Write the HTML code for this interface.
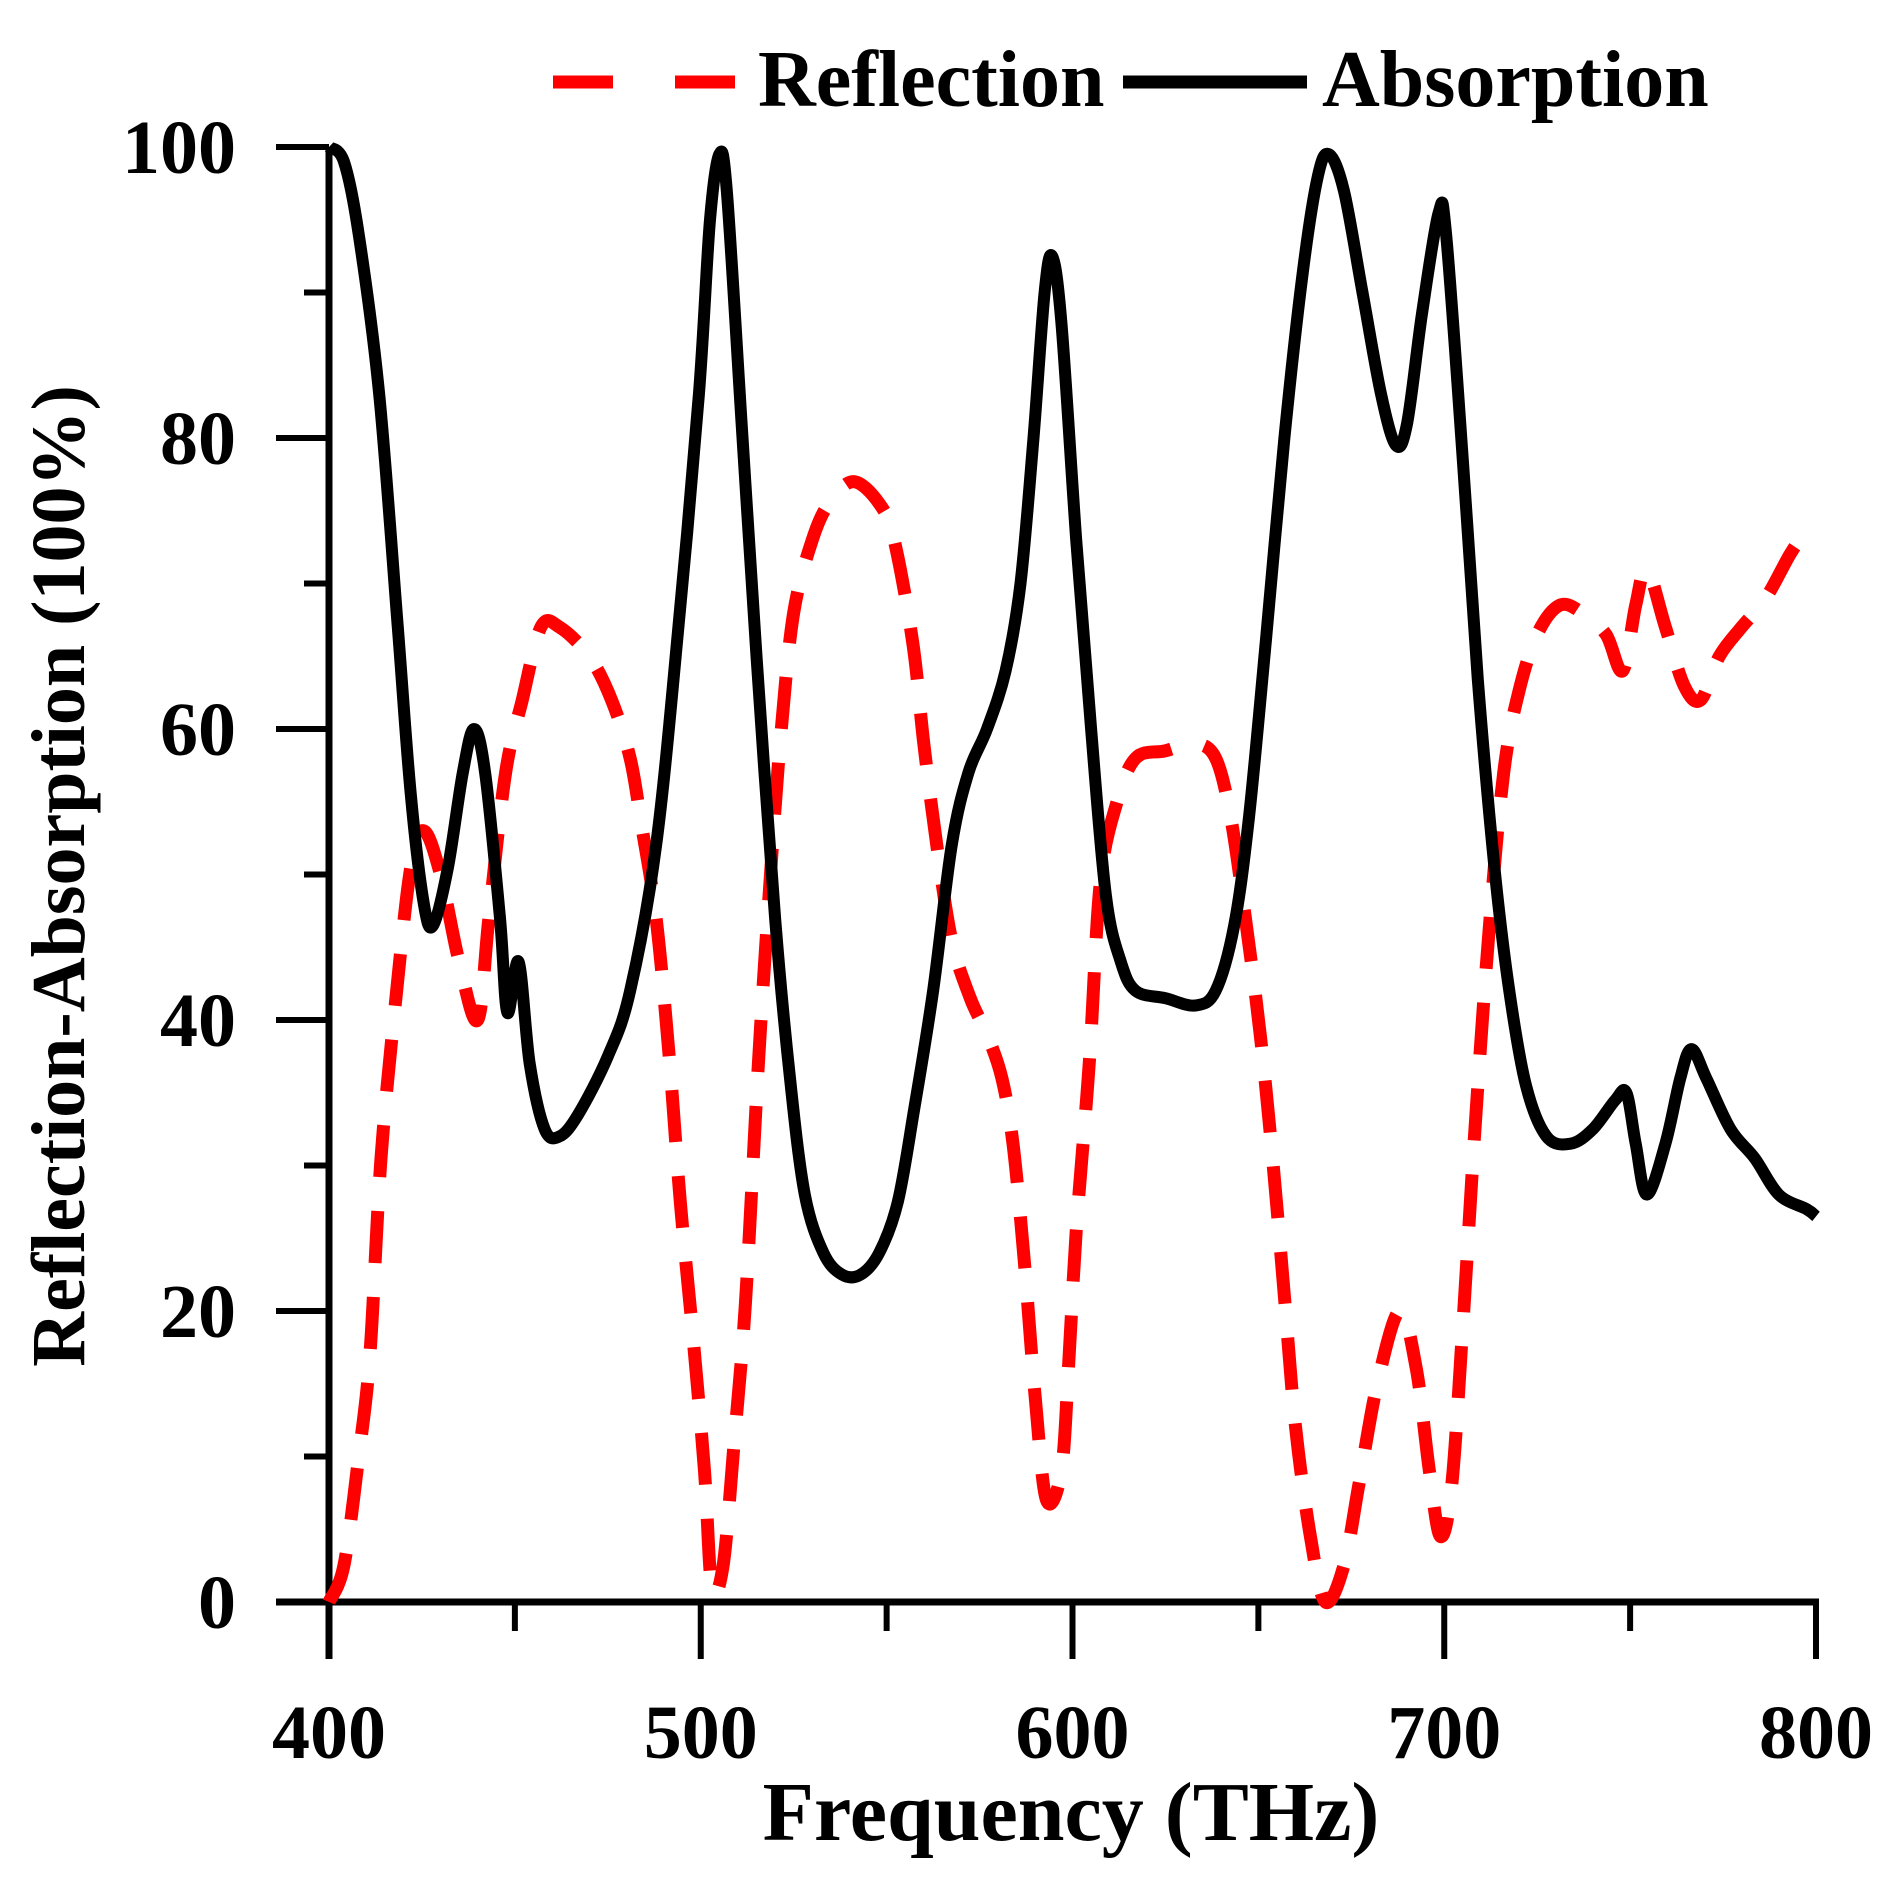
<!DOCTYPE html>
<html><head><meta charset="utf-8"><style>
html,body{margin:0;padding:0;background:#fff}
svg text{font-family:"Liberation Serif",serif;font-weight:bold;fill:#000}
</style></head><body>
<svg id="chart" width="1886" height="1877" viewBox="0 0 1886 1877" xmlns="http://www.w3.org/2000/svg">
<g id="axes"></g>
<g id="series"></g>
<g>
<line x1="553" y1="82" x2="735" y2="82" stroke="#ff0000" stroke-width="13" stroke-dasharray="60,62"/>
<text x="758" y="106" font-size="80">Reflection</text>
<line x1="1123" y1="82" x2="1307" y2="82" stroke="#000" stroke-width="13"/>
<text x="1322" y="106" font-size="80">Absorption</text>
</g>
<text x="1071" y="1840" font-size="84" text-anchor="middle">Frequency (THz)</text>
<text transform="translate(84,876) rotate(-90)" font-size="76" text-anchor="middle">Reflection-Absorption (100%)</text>
</svg>
<script>
const absFreq=[400,404,408,413.5,418.5,422,425.5,428,432,436,439,442,446,448,451,454,458,462,467,475,481,488,494,499.5,502.5,505,507,511,515,520,524,528,533,538,543,548,553,557.5,562.5,567.5,572,577,582,586,589.5,592.5,594.5,597,601,605,609,613,617,625,633,638.5,643.5,647.5,652,657,662,666,669,673,678,683,687,690,694,698.5,700.5,705,709,713.5,717.5,722,727.5,734,740,746,749,751.5,754.5,759.5,763.5,766.5,770.5,777,783.5,790,797.5,800];
const absVal=[100,99,94,83,67,55.5,48,46.5,50.5,57,60,57,47,40.5,44,37,32.5,32,33.5,37.5,42,52,67,83,95,99.5,97,81,65,47,36,28,24,22.5,22.5,24,27.5,34,42,52,57,60,64,70,80,90,92.5,88,73,60,48.5,44,42,41.5,41,42,46.5,54,66,80,91.5,98,99.5,97,90,83,79.5,81,88.5,95.5,94,78.5,63.5,50.5,42,35.5,32,31.5,32.5,34.5,35,31.5,28,31.5,36,38,36,32.5,30.5,28,27,26.5];
const refFreq=[400,404,408,411,414,418,422,425.5,430,435,440,443,447.5,452,457,462,470,476,481,484,488,491.5,494.5,498,501,503,506,509,512,515.5,518.5,521.5,525,530,534.5,541,548,552,557,560,563.5,567.5,572.5,577,581,584,587,590,593,597,599,601,604.5,607.5,612,617,625,633,638.5,642.5,646.5,650.5,654,657,660,664,668,673,677,682,688,692.5,696,699,702,705,708,712,716,720,725,731,737,743.5,748,751.5,754.5,759.5,764.5,769,774,780,786.5,793,796,800];
const refVal=[0,2.5,10,17,30.5,41.5,50.5,53,50,44,40,47,57,62,67,67,65,62,58,53.5,47,37.5,27.5,18,9,1,2.5,11,20.5,37,49,59.5,68,73,75.5,77,75.5,73,66,59,52,45.5,41.5,39,36,31.5,23.5,14,7,9,16.5,25.5,37,49.5,55,58,58.5,59,58,54,47,39,30,21,12,4.5,0,2.5,8,15,20,16,9,4.5,8,19,31.5,46,57,62.5,66.5,68.5,68,66.5,64,68.5,71,67,63,62,65,67,69,72,73,73.5];
const xTicks=[400,500,600,700,800];
const yTicks=[0,20,40,60,80,100];
const X0=329,X1=1816,Y0=1602,Y1=147;
function sx(f){return X0+(f-400)/400*(X1-X0);}
function sy(v){return Y0-v/100*(Y0-Y1);}
const NS="http://www.w3.org/2000/svg";
function mk(tag,attrs,parent){const e=document.createElementNS(NS,tag);for(const k in attrs)e.setAttribute(k,attrs[k]);parent.appendChild(e);return e;}
const axes=document.getElementById('axes');
let e=mk('line',{x1:X0,y1:Y1,x2:X0,y2:1659,stroke:'#000','stroke-width':7},axes);


e=mk('line',{x1:276,y1:Y0,x2:X1+3,y2:Y0,stroke:'#000','stroke-width':7},axes);


for(let v=0;v<=100;v+=10){const major=v%20===0;
 e=mk('line',{x1:major?276:304,y1:sy(v),x2:X0,y2:sy(v),stroke:'#000','stroke-width':6},axes);
 
 }
for(let f=400;f<=800;f+=50){const major=f%100===0;
 e=mk('line',{x1:sx(f),y1:Y0,x2:sx(f),y2:major?1659:1631,stroke:'#000','stroke-width':6},axes);
 
 }
yTicks.forEach(v=>{const t=mk('text',{x:236,y:sy(v)+26,'font-size':76,'text-anchor':'end'},axes);t.textContent=v;
 
 });
xTicks.forEach(f=>{const t=mk('text',{x:sx(f),y:1758,'font-size':76,'text-anchor':'middle'},axes);t.textContent=f;
 
 });
function smooth(fs,vs){const p=fs.map((f,i)=>[sx(f),sy(vs[i])]);let d='M'+p[0][0]+','+p[0][1];
 for(let i=0;i<p.length-1;i++){const a=p[Math.max(0,i-1)],b=p[i],c=p[i+1],q=p[Math.min(p.length-1,i+2)];
  const c1=[b[0]+(c[0]-a[0])/6,b[1]+(c[1]-a[1])/6],c2=[c[0]-(q[0]-b[0])/6,c[1]-(q[1]-b[1])/6];
  d+=' C'+c1[0].toFixed(1)+','+c1[1].toFixed(1)+' '+c2[0].toFixed(1)+','+c2[1].toFixed(1)+' '+c[0].toFixed(1)+','+c[1].toFixed(1);}
 return d;}
const series=document.getElementById('series');
e=mk('path',{d:smooth(refFreq,refVal),fill:'none',stroke:'#ff0000','stroke-width':13,'stroke-dasharray':'52,34'},series);


e=mk('path',{d:smooth(absFreq,absVal),fill:'none',stroke:'#000','stroke-width':12,'stroke-linejoin':'round'},series);


</script>
</body></html>
